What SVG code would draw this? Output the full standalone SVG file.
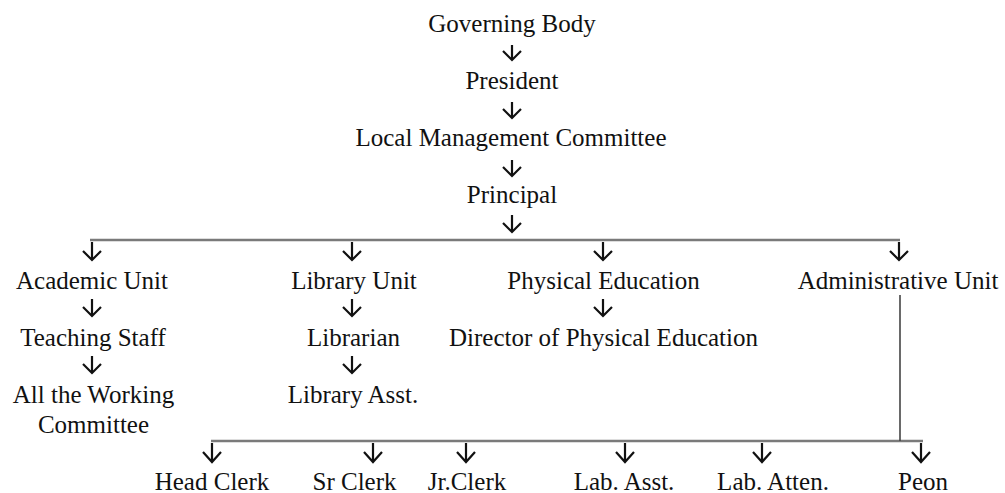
<svg xmlns="http://www.w3.org/2000/svg" width="1005" height="493" viewBox="0 0 1005 493">
<style>
text{font-family:"Liberation Serif","Times New Roman",serif;font-size:25px;fill:#111;text-anchor:middle}
.arr{fill:none;stroke:#111;stroke-width:2.2}
.bus{fill:none;stroke:#7a7a7a;stroke-width:2.6}
.vline{fill:none;stroke:#444;stroke-width:1.6}
</style>
<rect width="1005" height="493" fill="#fff"/>
<g id="connectors">
<path class="bus" d="M90 240H900"/>
<path class="bus" d="M211 441H923"/>
<path class="vline" d="M900 295V441"/>
<path class="arr" d="M512 45V60M503 51L512 60L521 51"/>
<path class="arr" d="M512 102V118M503 109L512 118L521 109"/>
<path class="arr" d="M512 160V176M503 167L512 176L521 167"/>
<path class="arr" d="M512 215V232M503 223L512 232L521 223"/>
<path class="arr" d="M92 242V260M83 251L92 260L101 251"/>
<path class="arr" d="M352 242V260M343 251L352 260L361 251"/>
<path class="arr" d="M603 242V260M594 251L603 260L612 251"/>
<path class="arr" d="M899 242V260M890 251L899 260L908 251"/>
<path class="arr" d="M92 299V316M83 307L92 316L101 307"/>
<path class="arr" d="M352 299V316M343 307L352 316L361 307"/>
<path class="arr" d="M603 299V316M594 307L603 316L612 307"/>
<path class="arr" d="M92 356V373M83 364L92 373L101 364"/>
<path class="arr" d="M352 356V373M343 364L352 373L361 364"/>
<path class="arr" d="M212 443V462M203 452L212 462L221 452"/>
<path class="arr" d="M373 443V462M364 452L373 462L382 452"/>
<path class="arr" d="M466 443V462M457 452L466 462L475 452"/>
<path class="arr" d="M625 443V462M616 452L625 462L634 452"/>
<path class="arr" d="M762 443V462M753 452L762 462L771 452"/>
<path class="arr" d="M921 443V462M912 452L921 462L930 452"/>
</g>
<g id="governing-body"><text x="512" y="32">Governing Body</text></g>
<g id="president"><text x="512" y="89">President</text></g>
<g id="local-management-committee"><text x="511" y="146">Local Management Committee</text></g>
<g id="principal"><text x="512" y="203">Principal</text></g>
<g id="academic-unit"><text x="92" y="289">Academic Unit</text></g>
<g id="library-unit"><text x="354" y="289">Library Unit</text></g>
<g id="physical-education"><text x="603.5" y="289">Physical Education</text></g>
<g id="administrative-unit"><text x="898" y="289">Administrative Unit</text></g>
<g id="teaching-staff"><text x="93" y="346">Teaching Staff</text></g>
<g id="librarian"><text x="353.5" y="346">Librarian</text></g>
<g id="director-pe"><text x="603.5" y="346">Director of Physical Education</text></g>
<g id="working-committee"><text x="93.5" y="403">All the Working</text><text x="93.5" y="433">Committee</text></g>
<g id="library-asst"><text x="353" y="403">Library Asst.</text></g>
<g id="head-clerk"><text x="212" y="490">Head Clerk</text></g>
<g id="sr-clerk"><text x="354.5" y="490">Sr Clerk</text></g>
<g id="jr-clerk"><text x="467" y="490">Jr.Clerk</text></g>
<g id="lab-asst"><text x="624" y="490">Lab. Asst.</text></g>
<g id="lab-atten"><text x="773" y="490">Lab. Atten.</text></g>
<g id="peon"><text x="923" y="490">Peon</text></g>
</svg>
